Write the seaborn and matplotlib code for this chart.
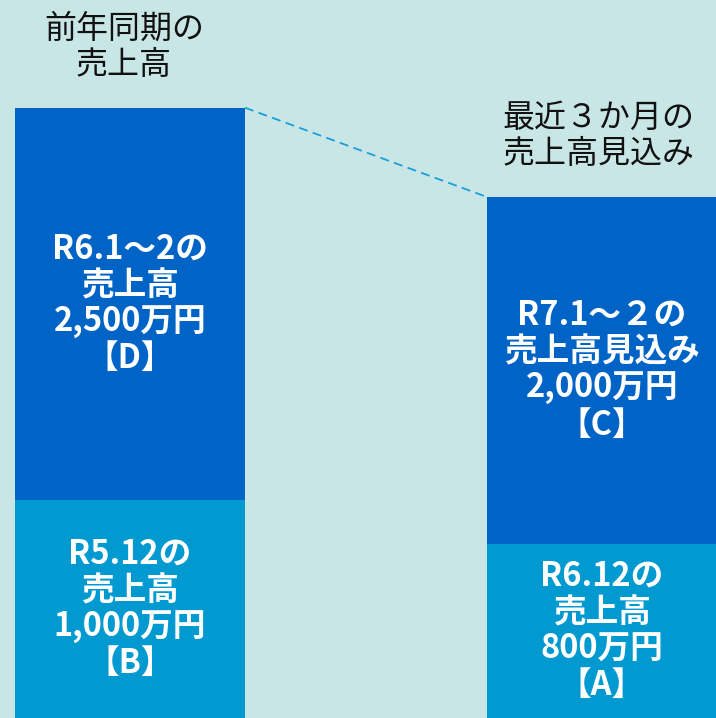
import matplotlib
matplotlib.use("Agg")
import matplotlib.pyplot as plt
import seaborn as sns
import pandas as pd

# ---- data ----
periods = ["前年同期", "最近３か月"]
# drawn segment heights (chart units, bars are not drawn to true scale)
base_heights = [1000, 800]
upper_heights = [1800, 1590]
upper_labels = ["R6.1～2の\n売上高\n2,500万円\n【D】", "R7.1～２の\n売上高見込み\n2,000万円\n【C】"]
base_labels = ["R5.12の\n売上高\n1,000万円\n【B】", "R6.12の\n売上高\n800万円\n【A】"]
titles = ["前年同期の\n売上高", "最近３か月の\n売上高見込み"]

sns.set_theme(style="white")
plt.rcParams["font.family"] = ["Noto Sans CJK JP", "DejaVu Sans"]

BG = "#C8E6E5"
DARK = "#0063C6"
LIGHT = "#0099D0"
DASH = "#1A9FD8"

df = pd.DataFrame({
    "period": periods,
    "base": base_heights,
    "total": [b + u for b, u in zip(base_heights, upper_heights)],
})

fig = plt.figure(figsize=(7.16, 7.18), dpi=100, facecolor=BG)
ax = fig.add_axes([0, 0, 1, 1])
ax.set_facecolor(BG)

W = 0.487
sns.barplot(data=df, x="period", y="total", color=DARK, saturation=1,
            width=W, ax=ax, linewidth=0)
sns.barplot(data=df, x="period", y="base", color=LIGHT, saturation=1,
            width=W, ax=ax, linewidth=0)

ax.set_xlim(-0.2754, 1.2415)
ax.set_ylim(0, 3294)
ax.axis("off")

# dashed connector between the tops of the two bars
ax.plot([0 + W / 2, 1 - W / 2], [df["total"][0], df["total"][1]],
        color=DASH, lw=1.3, linestyle=(0, (5, 3)), zorder=5)

for i in range(len(periods)):
    b = df["base"][i]
    t = df["total"][i]
    ax.text(i, b / 2, base_labels[i], ha="center", va="center", color="white",
            fontsize=23.5, fontweight="bold", linespacing=1.13)
    ax.text(i, (b + t) / 2, upper_labels[i], ha="center", va="center", color="white",
            fontsize=23.5, fontweight="bold", linespacing=1.13)
    ax.text(i - 0.013 + 0.006 * i, t + 280, titles[i], ha="center", va="center",
            color="#111111", fontsize=23, linespacing=1.18)

fig.savefig("out.png", dpi=100, facecolor=BG)
